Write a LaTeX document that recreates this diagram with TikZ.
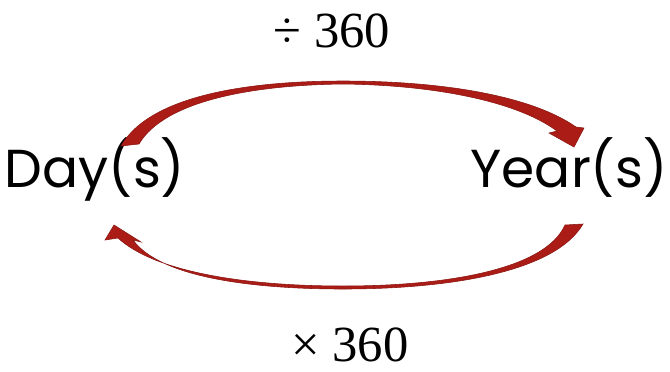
\documentclass[tikz,border=0pt]{standalone}
\usepackage{fontspec}
\newfontfamily\gothic{Poppins}
\newfontfamily\timesf{Liberation Serif}
\definecolor{arcred}{RGB}{172,28,22}

\begin{document}
\begin{tikzpicture}[x=0.025cm,y=-0.025cm,
    unit/.style={font=\gothic\fontsize{38}{46}\selectfont, inner sep=0pt, anchor=base},
    rate/.style={font=\timesf\fontsize{36}{43}\selectfont, inner sep=0pt, text depth=0pt, anchor=base},
    bow/.style={fill=arcred, draw=arcred!80!black, line width=0.4pt}]
  \useasboundingbox (0,0) rectangle (670,371);
  \node[unit] (day) at (95,187) {Day(s)};
  \node[unit] (year) at (569,187) {Year(s)};
  \node[rate] (div) at (332,47) {÷ 360};
  \node[rate] (mul) at (350,361) {× 360};
  % day -> year, over the top
  \fill[bow] (121,146) .. controls (150,95) and (250,81) .. (343,81)
    .. controls (440,81) and (530,95) .. (576,127)
    -- (584,128) -- (574,147) -- (549,133) -- (557,131)
    .. controls (515,100) and (430,85) .. (343,84)
    .. controls (255,85) and (165,100) .. (139,144) -- cycle;
  % year -> day, underneath
  \fill[bow] (583,224) .. controls (555,272) and (450,289) .. (343,289)
    .. controls (250,289) and (160,277) .. (133,240)
    -- (141,242) -- (114,225) -- (105,240) -- (118,238)
    .. controls (155,272) and (245,286) .. (343,286)
    .. controls (445,286) and (545,270) .. (565,225) -- cycle;
\end{tikzpicture}
\end{document}
